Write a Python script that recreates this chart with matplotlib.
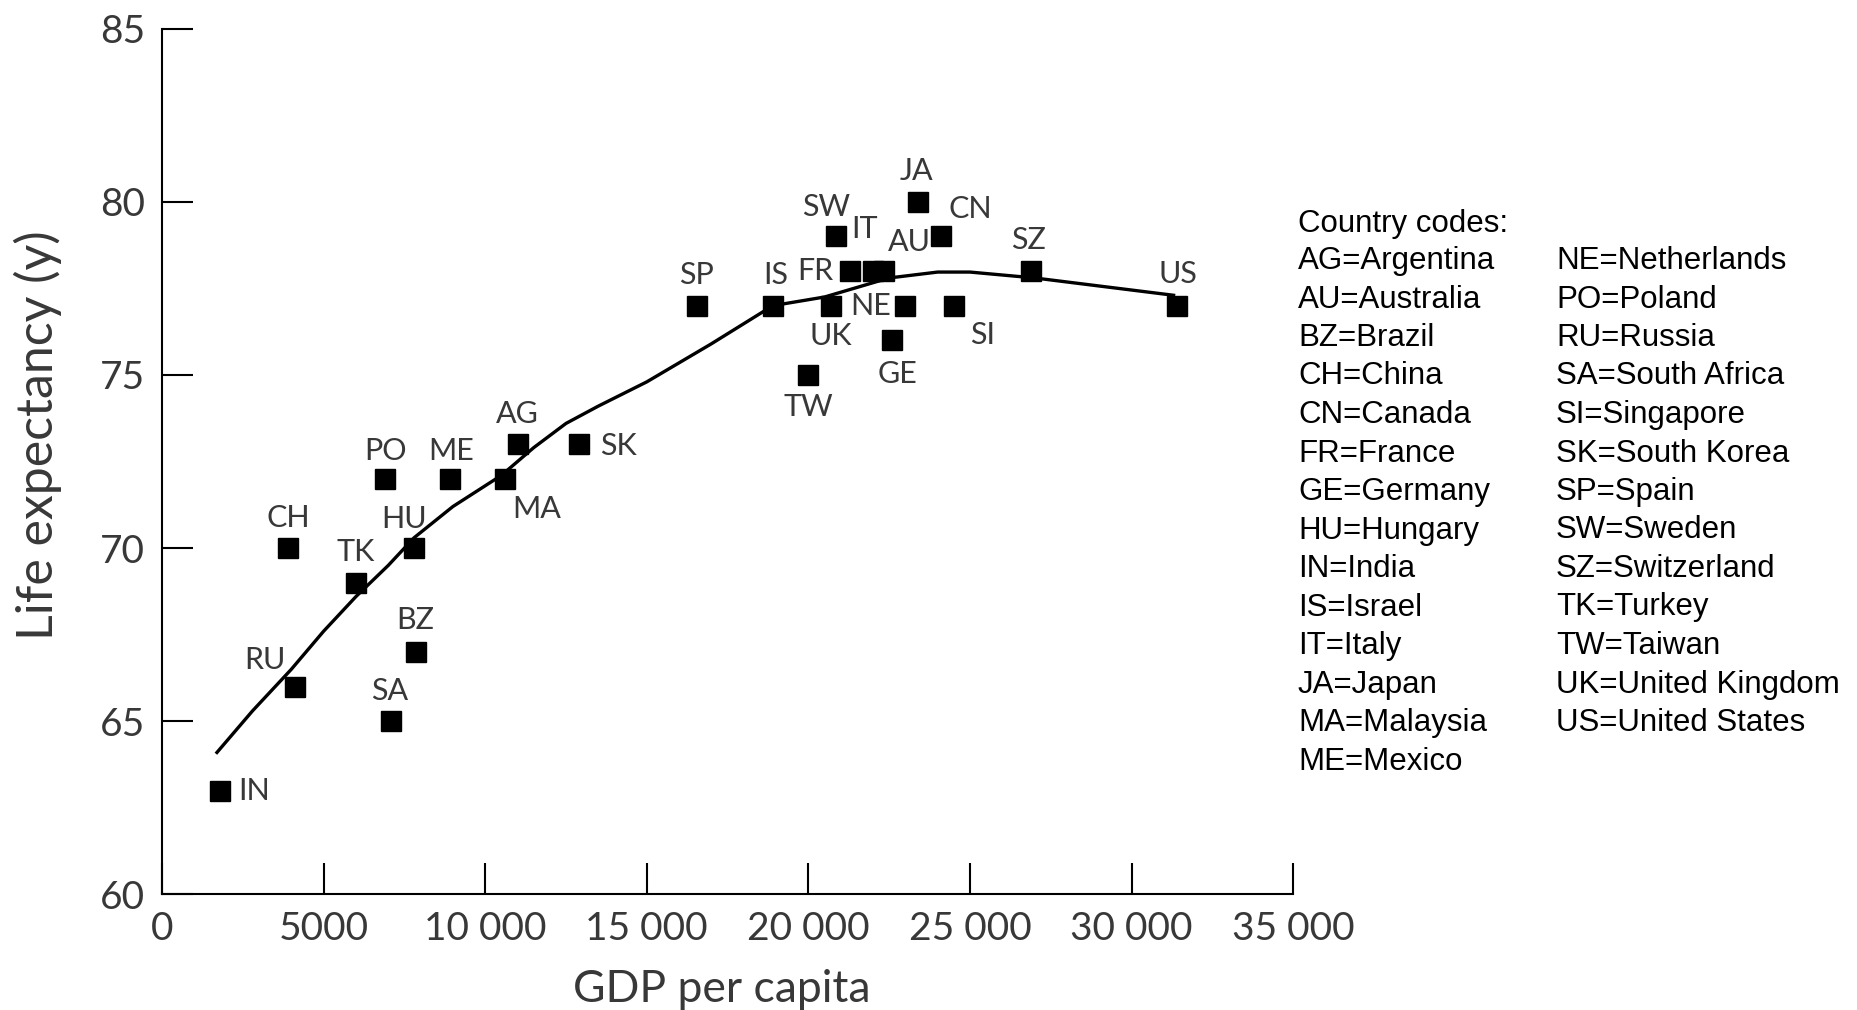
import matplotlib
matplotlib.use('Agg')
import matplotlib.pyplot as plt

# Country data: GDP per capita and life expectancy
codes = ['IN', 'RU', 'CH', 'TK', 'PO', 'SA', 'HU', 'BZ', 'ME', 'MA', 'AG', 'SK',
         'SP', 'IS', 'TW', 'UK', 'SW', 'FR', 'IT', 'AU', 'NE', 'GE', 'JA', 'CN',
         'SI', 'SZ', 'US']
gdp = [1800, 4100, 3900, 6000, 6900, 7100, 7800, 7850, 8900, 10600, 11000, 12900,
       16550, 18900, 20000, 20700, 20850, 21300, 22000, 22350, 23000, 22600, 23400, 24100,
       24500, 26900, 31400]
life = [63, 66, 70, 69, 72, 65, 70, 67, 72, 72, 73, 73,
        77, 77, 75, 77, 79, 78, 78, 78, 77, 76, 80, 79,
        77, 78, 77]

# Smoothed trend line
trend_x = [1700, 2800, 4000, 5000, 6000, 7000, 7800, 9000, 10500, 11500, 12500,
           13500, 15000, 17000, 18900, 20500, 22500, 24000, 25000, 27000, 31300]
trend_y = [64.1, 65.3, 66.5, 67.6, 68.6, 69.5, 70.3, 71.2, 72.1, 72.9, 73.6,
           74.1, 74.8, 75.9, 77.0, 77.25, 77.8, 77.97, 77.97, 77.8, 77.3]

xticks = [0, 5000, 10000, 15000, 20000, 25000, 30000, 35000]
xtick_labels = ['0', '5000', '10 000', '15 000', '20 000', '25 000', '30 000', '35 000']
yticks = [60, 65, 70, 75, 80, 85]

legend_col1 = ['AG=Argentina', 'AU=Australia', 'BZ=Brazil', 'CH=China', 'CN=Canada',
               'FR=France', 'GE=Germany', 'HU=Hungary', 'IN=India', 'IS=Israel',
               'IT=Italy', 'JA=Japan', 'MA=Malaysia', 'ME=Mexico']
legend_col2 = ['NE=Netherlands', 'PO=Poland', 'RU=Russia', 'SA=South Africa',
               'SI=Singapore', 'SK=South Korea', 'SP=Spain', 'SW=Sweden',
               'SZ=Switzerland', 'TK=Turkey', 'TW=Taiwan', 'UK=United Kingdom',
               'US=United States']

# label placement relative to each marker (offset points, ha)
label_pos = {
    'IN': (13, 0, 'left'), 'RU': (-21, 19, 'center'), 'CH': (0, 22, 'center'),
    'TK': (0, 22, 'center'), 'PO': (0, 20, 'center'), 'SA': (-1, 22, 'center'),
    'HU': (-7, 21, 'center'), 'BZ': (0, 23, 'center'), 'ME': (1, 20, 'center'),
    'MA': (23, -22, 'center'), 'AG': (0, 22, 'center'), 'SK': (15, -1, 'left'),
    'SP': (0, 22, 'center'), 'IS': (2, 22, 'center'), 'TW': (0, -23, 'center'),
    'UK': (0, -22, 'center'), 'SW': (-7, 21, 'center'), 'FR': (-12, 0, 'right'),
    'IT': (-6, 30, 'center'), 'AU': (18, 21, 'center'), 'NE': (-10, 0, 'right'),
    'GE': (4, -24, 'center'), 'JA': (-1, 22, 'center'), 'CN': (21, 20, 'center'),
    'SI': (21, -21, 'center'), 'SZ': (-2, 22, 'center'), 'US': (1, 23, 'center'),
}

axfont = 'Lato'
txtcol = '#383838'

fig = plt.figure(figsize=(18.58, 10.10), dpi=100)
ax = fig.add_axes([0.0872, 0.1144, 0.6088, 0.8573])

ax.plot(trend_x, trend_y, color='black', linewidth=2.4, zorder=2)
ax.plot(gdp, life, linestyle='none', marker='s', markersize=14,
        color='black', zorder=3)

for c, x, y in zip(codes, gdp, life):
    dx, dy, ha = label_pos[c]
    ax.annotate(c, (x, y), xytext=(dx, dy), textcoords='offset points',
                ha=ha, va='center', fontsize=22, family=axfont, color=txtcol)

ax.set_xlim(0, 35000)
ax.set_ylim(60, 85)
ax.set_xticks(xticks)
ax.set_xticklabels(xtick_labels)
ax.set_yticks(yticks)
for side in ['top', 'right']:
    ax.spines[side].set_visible(False)
for side in ['left', 'bottom']:
    ax.spines[side].set_linewidth(1.5)
ax.tick_params(direction='in', length=22, width=1.5, labelsize=28, pad=12,
               labelcolor=txtcol)
for lab in ax.get_xticklabels() + ax.get_yticklabels():
    lab.set_family(axfont)

# axis titles placed in figure coordinates
fig.text(722 / 1858, 1 - 990 / 1010, 'GDP per capita', fontsize=32, family=axfont,
         color=txtcol, ha='center', va='center')
fig.text(38 / 1858, 1 - 435 / 1010, 'Life expectancy (y)', fontsize=36, family=axfont,
         color=txtcol, ha='center', va='center', rotation=90)

# Country code key
fig.text(1298 / 1858, 1 - 224 / 1010, 'Country codes:', fontsize=22.5,
         family='Liberation Sans', va='center', ha='left')
for i, t in enumerate(legend_col1):
    fig.text(1298 / 1858, 1 - (261 + i * 38.5) / 1010, t, fontsize=22.5,
             family='Liberation Sans', va='center', ha='left')
for i, t in enumerate(legend_col2):
    fig.text(1556 / 1858, 1 - (261 + i * 38.5) / 1010, t, fontsize=22.5,
             family='Liberation Sans', va='center', ha='left')

fig.savefig('out.png', dpi=100)
